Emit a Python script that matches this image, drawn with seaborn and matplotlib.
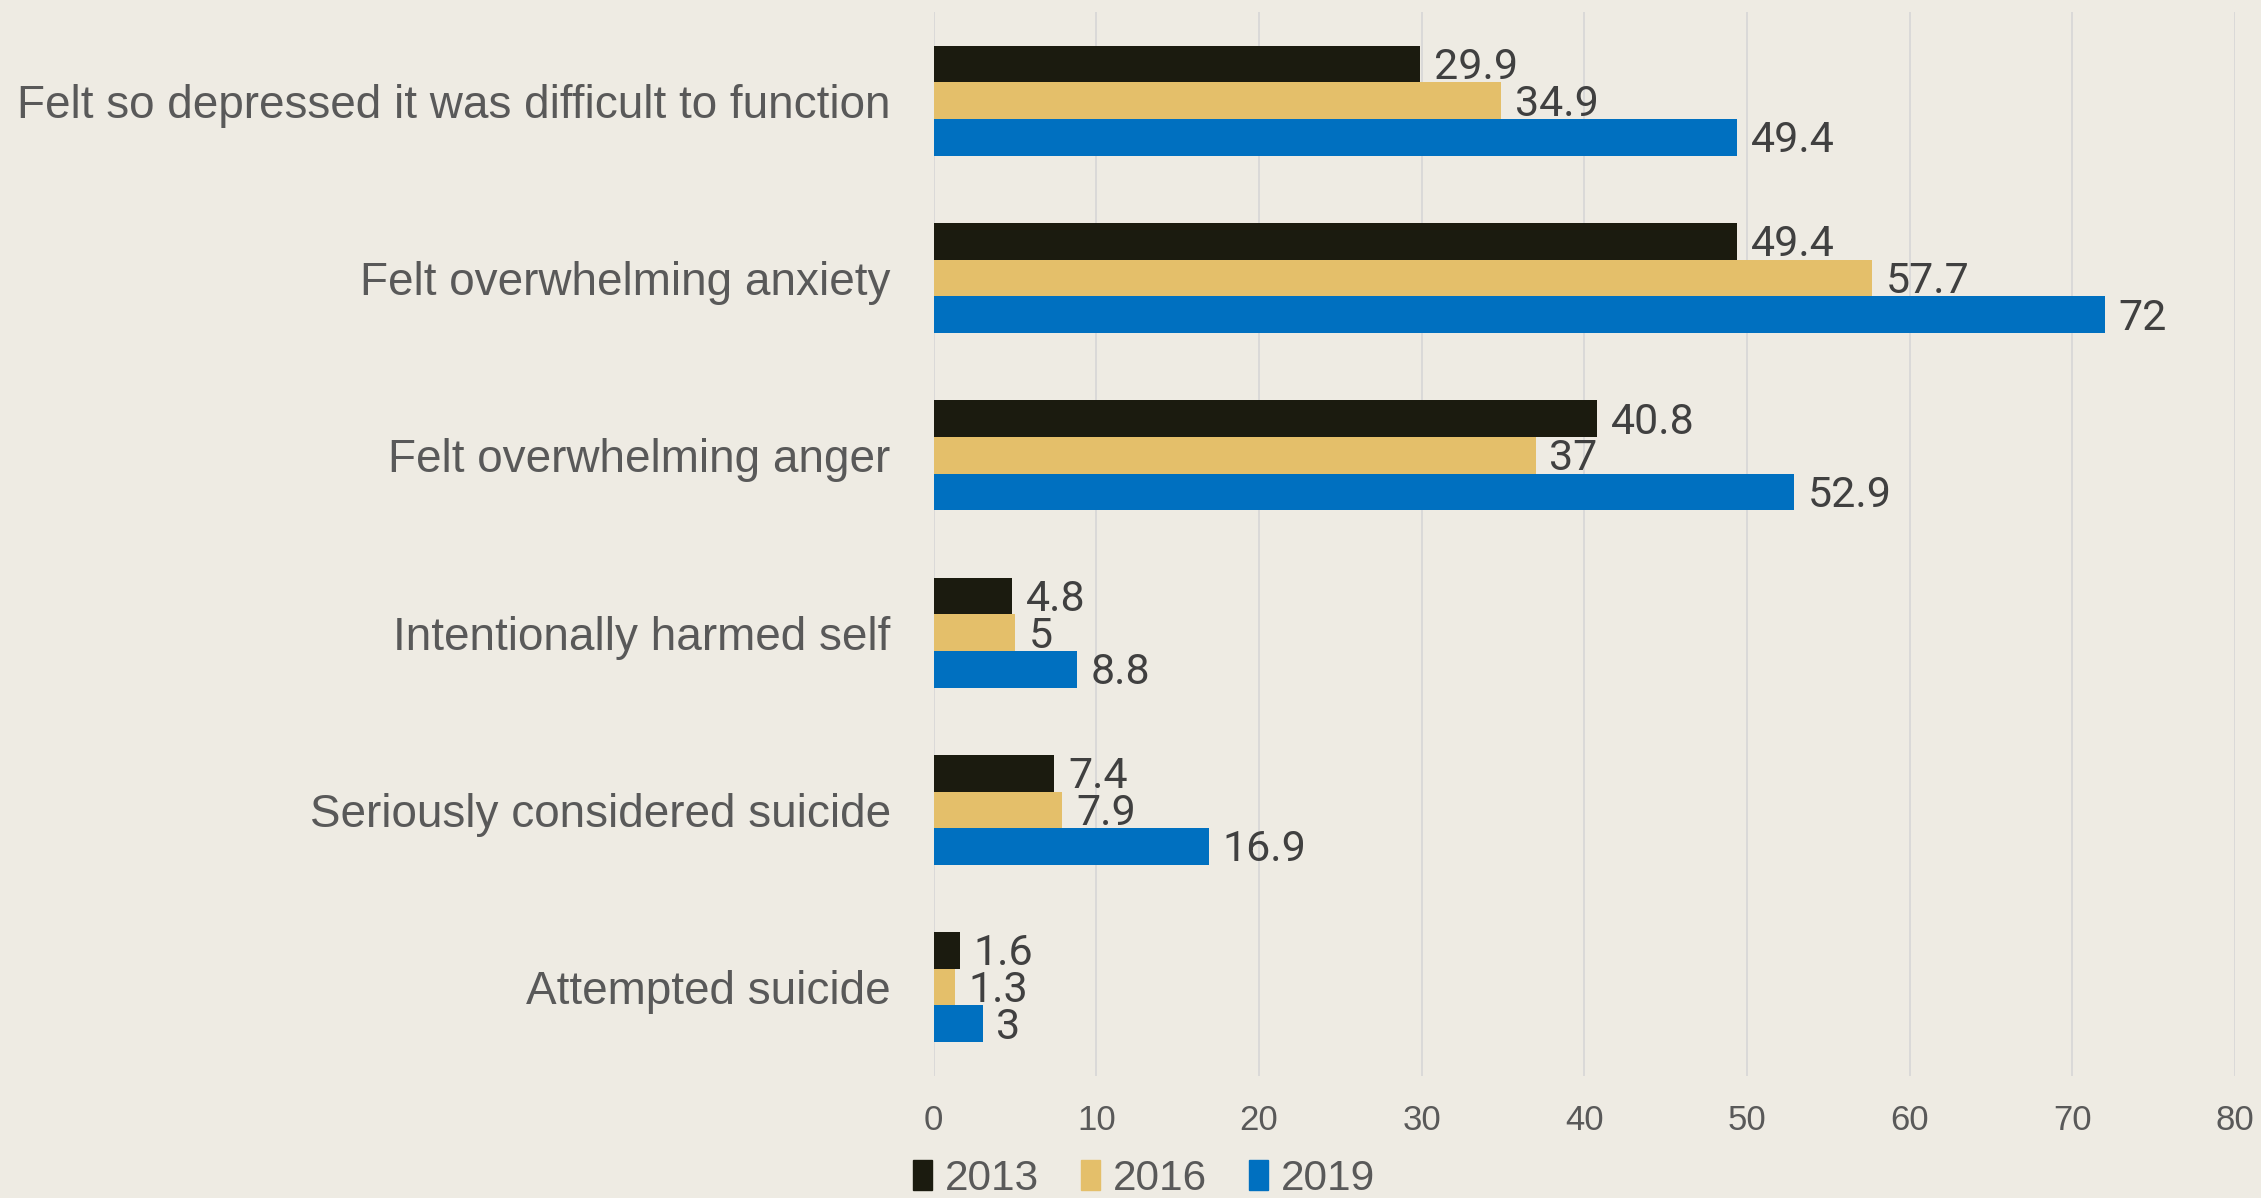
import matplotlib
matplotlib.use("Agg")
import matplotlib.pyplot as plt
import pandas as pd
import seaborn as sns

# Chart values.
categories = [
    "Felt so depressed it was difficult to function",
    "Felt overwhelming anxiety",
    "Felt overwhelming anger",
    "Intentionally harmed self",
    "Seriously considered suicide",
    "Attempted suicide",
]
years = ["2013", "2016", "2019"]
values_2013 = [29.9, 49.4, 40.8, 4.8, 7.4, 1.6]
values_2016 = [34.9, 57.7, 37, 5, 7.9, 1.3]
values_2019 = [49.4, 72, 52.9, 8.8, 16.9, 3]
x_ticks = [0, 10, 20, 30, 40, 50, 60, 70, 80]

colors = ["#1b1b0f", "#e4bf6a", "#0070c0"]
bg = "#eeebe3"

df = pd.DataFrame({
    "category": categories * 3,
    "year": [y for y in years for _ in categories],
    "value": values_2013 + values_2016 + values_2019,
})

sns.set_theme(style="white")
plt.rcParams["font.family"] = ["Liberation Sans Narrow", "Liberation Sans", "DejaVu Sans"]

fig, ax = plt.subplots(figsize=(22.61, 11.98), dpi=100)
fig.patch.set_facecolor(bg)
ax.set_facecolor(bg)
fig.subplots_adjust(left=0.413, right=0.9885, top=0.99, bottom=0.102)

sns.barplot(
    data=df, y="category", x="value", hue="year", orient="h",
    order=categories, hue_order=years, palette=colors,
    width=0.62, linewidth=0, saturation=1, ax=ax,
)

for cont in ax.containers:
    labels = [f"{v:g}" for v in cont.datavalues]
    anns = ax.bar_label(cont, labels=labels, padding=10, fontsize=31,
                        color="#404040", family=["Roboto", "DejaVu Sans"])
    # nudge labels a touch below the bar centre, like the original
    for a in anns:
        a.xyann = (10, -2.5)

ax.set_xlim(0, 80)
ax.set_xticks(x_ticks)
ax.xaxis.grid(True, color="#d6d6d6", linewidth=1.2)
ax.set_axisbelow(True)
for s in ax.spines.values():
    s.set_visible(False)
ax.set_xlabel("")
ax.set_ylabel("")
ax.tick_params(axis="y", length=0, pad=31, labelsize=33, labelcolor="#595959")
ax.tick_params(axis="x", length=0, pad=20, labelsize=25, labelcolor="#595959")

ax.legend_.remove()
handles = [plt.Rectangle((0, 0), 1, 1, color=c) for c in colors]
fig.legend(handles, years, loc="center", bbox_to_anchor=(0.506, 0.016),
           ncol=3, frameon=False, fontsize=30.5, labelcolor="#595959",
           handlelength=0.45, handleheight=0.7, handletextpad=0.3,
           columnspacing=1.0)

fig.savefig("out.png", dpi=100, facecolor=bg)
